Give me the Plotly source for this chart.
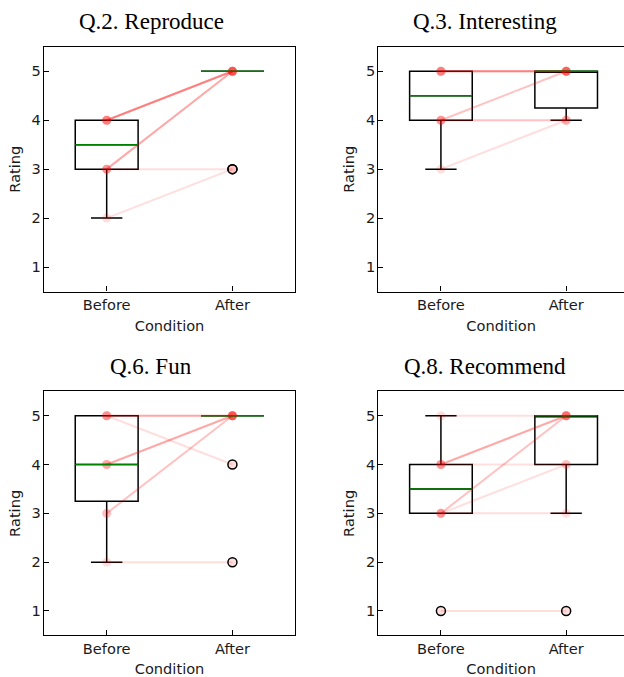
import numpy as np
import plotly.graph_objects as go

# ---------------- data ----------------
conditions = ["Before", "After"]
cond_pos = [1, 2]
rating_ticks = [1, 2, 3, 4, 5]
titles = ["Q.2. Reproduce", "Q.3. Interesting", "Q.6. Fun", "Q.8. Recommend"]

# one entry per participant (paired Before/After)
q2_before = [4, 4, 4, 4, 4, 3, 3, 3, 3, 2]
q2_after = [5, 5, 5, 5, 5, 5, 5, 5, 3, 3]
q3_before = [5, 5, 5, 5, 5, 4, 4, 4, 4, 3]
q3_after = [5, 5, 5, 5, 5, 5, 5, 4, 4, 4]
q6_before = [5, 5, 5, 5, 4, 4, 4, 3, 3, 2]
q6_after = [5, 5, 5, 4, 5, 5, 5, 5, 5, 2]
q8_before = [5, 4, 4, 4, 4, 3, 3, 3, 3, 1]
q8_after = [5, 5, 5, 5, 4, 5, 5, 4, 3, 1]

panels = [
    (q2_before, q2_after),
    (q3_before, q3_after),
    (q6_before, q6_after),
    (q8_before, q8_after),
]

# ---------------- layout geometry (px) ----------------
W, H = 624, 677
col_x = [(43.8, 295.3), (378.3, 628.8)]   # axis left/right in px
row_y = [(46.8, 291.5), (391.3, 635.4)]   # axis top/bottom in px
BOX_W = 0.5
LINE_RGBA = "rgba(255,0,0,0.13)"
FONT = "DejaVu Sans"
TXT = "#1a1a1a"


def box_stats(vals):
    a = np.asarray(vals, dtype=float)
    q1, med, q3 = np.percentile(a, [25, 50, 75])
    iqr = q3 - q1
    lo = a[a >= q1 - 1.5 * iqr].min()
    hi = a[a <= q3 + 1.5 * iqr].max()
    fl = a[(a < lo) | (a > hi)]
    return q1, med, q3, lo, hi, fl


fig = go.Figure()
layout = {}
annotations = []

for k, (before, after) in enumerate(panels):
    r, c = divmod(k, 2)
    ax = "" if k == 0 else str(k + 1)
    xref, yref = "x" + ax, "y" + ax

    x0, x1 = col_x[c]
    vis_x1 = min(x1, W)
    full_range = 2.5 - 0.5
    xr_hi = 0.5 + full_range * (vis_x1 - x0) / (x1 - x0)
    yt, yb = row_y[r]

    # participant lines + points
    for b, a in zip(before, after):
        fig.add_trace(go.Scatter(
            x=cond_pos, y=[b, a], mode="lines+markers",
            line=dict(color=LINE_RGBA, width=2),
            marker=dict(size=9, color=LINE_RGBA, line=dict(width=0)),
            xaxis=xref, yaxis=yref, showlegend=False, hoverinfo="skip"))

    # boxes
    for pos, vals in zip(cond_pos, (before, after)):
        q1, med, q3, lo, hi, fl = box_stats(vals)
        fig.add_trace(go.Box(
            x=[pos], q1=[q1], median=[med], q3=[q3],
            lowerfence=[lo], upperfence=[hi],
            width=BOX_W, whiskerwidth=0.5, boxpoints=False,
            line=dict(color="black", width=1.5),
            fillcolor="rgba(0,0,0,0)",
            xaxis=xref, yaxis=yref, showlegend=False, hoverinfo="skip"))
        fig.add_trace(go.Scatter(
            x=[pos - BOX_W / 2, pos + BOX_W / 2], y=[med, med], mode="lines",
            line=dict(color="green", width=1.5),
            xaxis=xref, yaxis=yref, showlegend=False, hoverinfo="skip"))
        if len(fl):
            fig.add_trace(go.Scatter(
                x=[pos] * len(fl), y=list(fl), mode="markers",
                marker=dict(size=9, color="rgba(0,0,0,0)",
                            line=dict(color="black", width=1.5)),
                xaxis=xref, yaxis=yref, showlegend=False, hoverinfo="skip"))

    layout["xaxis" + ax] = dict(
        domain=[x0 / W, vis_x1 / W], range=[0.5, xr_hi],
        tickmode="array", tickvals=cond_pos, ticktext=conditions,
        ticks="inside", ticklen=5, tickwidth=1, tickcolor="black",
        showline=True, linecolor="black", linewidth=1.2, mirror=True,
        showgrid=False, zeroline=False, automargin=False,
        tickfont=dict(family=FONT, size=14.6, color=TXT),
        title=dict(text="Condition", font=dict(family=FONT, size=14.6, color=TXT), standoff=8),
        anchor=yref, fixedrange=True)
    layout["yaxis" + ax] = dict(
        domain=[(H - yb) / H, (H - yt) / H], range=[0.5, 5.5],
        tickmode="array", tickvals=rating_ticks,
        ticks="inside", ticklen=5, tickwidth=1, tickcolor="black",
        showline=True, linecolor="black", linewidth=1.2, mirror=(c == 0),
        showgrid=False, zeroline=False, automargin=False,
        ticklabelstandoff=-1,
        tickfont=dict(family=FONT, size=14.6, color=TXT),
        title=dict(text="Rating", font=dict(family=FONT, size=14.6, color=TXT), standoff=7),
        anchor=xref, fixedrange=True)

    annotations.append(dict(
        text=titles[k], xref="paper", yref="paper",
        x=(x0 + x1) / 2 / W - 18.5 / W, y=(H - (yt - 25)) / H,
        xanchor="center", yanchor="middle", showarrow=False,
        font=dict(family="Liberation Serif", size=23, color="black")))

fig.update_layout(
    width=W, height=H, margin=dict(l=0, r=0, t=0, b=0),
    paper_bgcolor="white", plot_bgcolor="white",
    showlegend=False, annotations=annotations, boxmode="overlay",
    **layout)

fig.write_html(
    "out.html", config={"displayModeBar": False},
    post_script="document.body.style.margin='0';document.body.style.overflow='hidden';")
